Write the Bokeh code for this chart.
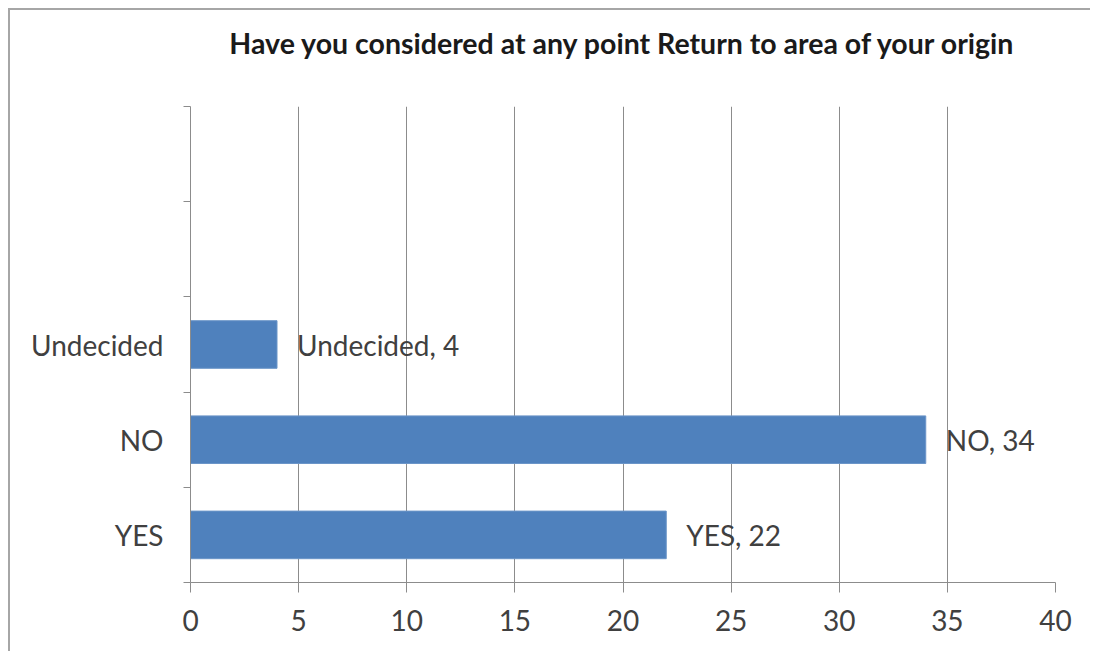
from bokeh.plotting import figure
from bokeh.models import Range1d, FixedTicker, ColumnDataSource, Title
from bokeh.embed import file_html
from bokeh.resources import INLINE
from bokeh.core.properties import value

# ---- data ----
categories = ["YES", "NO", "Undecided"]
counts = [22, 34, 4]
slot_labels = ["YES", "NO", "Undecided", "", ""]
x_ticks = [0, 5, 10, 15, 20, 25, 30, 35, 40]
title_text = "Have you considered at any point Return to area of your origin"

FONT = "Lato"
GRAY = "#8c8c8c"
TXT = "#404040"

n_slots = len(slot_labels)
centers = [i + 0.5 for i in range(n_slots)]
boundaries = list(range(n_slots + 1))

src = ColumnDataSource(dict(
    y=[centers[i] for i in range(len(categories))],
    right=counts,
    label=[f"{c}, {v}" for c, v in zip(categories, counts)],
))

W, H = 1082, 643
FL, FT, FR, FB = 180, 96, 1045, 572   # frame edges in canvas px
p = figure(width=W, height=H, output_backend="svg", toolbar_location=None,
           x_range=Range1d(0, 40), y_range=Range1d(0, n_slots),
           min_border_left=FL, min_border_right=W - FR, min_border_top=FT,
           min_border_bottom=H - FB, title=title_text)
p.styles = {"margin-left": "8px", "margin-top": "8px",
            "border-left": "2px solid #a6a6a6", "border-top": "2px solid #a6a6a6"}

# spacer between title and plot frame
spacer = Title(text=" ", text_font_size="1px", standoff=44)
p.add_layout(spacer, "above")

p.title.text_font = FONT
p.title.text_font_size = "28.5px"
p.title.text_font_style = "bold"
p.title.text_color = "#1a1a1a"
p.title.align = "center"
p.title.standoff = 0
p.title.offset = -4

p.outline_line_color = None
p.background_fill_color = "white"
p.border_fill_color = "white"

p.hbar(y="y", left=0, right="right", height=0.5, source=src,
       fill_color="#4f81bd", line_color="#6b95c8", line_width=1)

p.text(x="right", y="y", text="label", source=src, x_offset=20,
       text_align="left", text_baseline="middle", text_font=value(FONT),
       text_font_size="28px", text_color=TXT)

# x axis
xa = p.xaxis[0]
xa.ticker = FixedTicker(ticks=x_ticks)
xa.axis_line_color = GRAY
xa.major_tick_line_color = GRAY
xa.major_tick_out = 10
xa.major_tick_in = 0
xa.minor_tick_line_color = None
xa.major_label_text_font = FONT
xa.major_label_text_font_size = "28px"
xa.major_label_text_color = TXT
xa.major_label_standoff = 17

# y axis
ya = p.yaxis[0]
ya.ticker = FixedTicker(ticks=centers, minor_ticks=boundaries)
ya.major_label_overrides = {c: lab for c, lab in zip(centers, slot_labels)}
ya.axis_line_color = GRAY
ya.major_tick_line_color = None
ya.major_tick_out = 0
ya.major_tick_in = 0
ya.minor_tick_line_color = GRAY
ya.minor_tick_out = 7
ya.minor_tick_in = 0
ya.major_label_text_font = FONT
ya.major_label_text_font_size = "28px"
ya.major_label_text_color = TXT
ya.major_label_standoff = 20

p.ygrid.visible = False
p.xgrid.ticker = FixedTicker(ticks=x_ticks)
p.xgrid.grid_line_color = GRAY
p.xgrid.grid_line_alpha = 1.0

open("out.html", "w").write(file_html(p, INLINE))
